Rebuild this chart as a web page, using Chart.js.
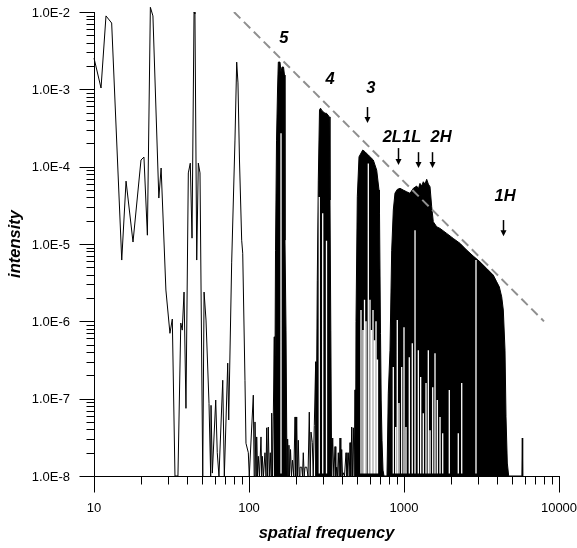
<!DOCTYPE html>
<html>
<head>
<meta charset="utf-8">
<script src="https://cdn.jsdelivr.net/npm/chart.js@4.4.0/dist/chart.umd.min.js"></script>
<style>
  html, body { margin: 0; padding: 0; background: #fff; }
</style>
</head>
<body>
<canvas id="spectrum" width="577" height="548"></canvas>
<script>
// axis ranges / ticks
const freqTicks = [10, 100, 1000, 10000];
const intTicks = [1e-8, 1e-7, 1e-6, 1e-5, 1e-4, 1e-3, 1e-2];

// measured spectrum: sparse low-frequency trace and low clusters between bands
const lineFreq = [
    10, 11.1, 11.95, 13.0, 15.1, 16.1, 17.85, 20.1, 21.0, 22.1,
    23.1, 24.0, 26.2, 27.1, 29.1, 30.9, 32.0, 33.3, 34.8, 36.3,
    37.1, 38.1, 39.2, 40.6, 41.8, 42.9, 44.2, 44.8, 46.0, 47.1,
    48.3, 50.3, 51.3, 52.8, 55.2, 56.6, 56.9, 58.0, 61.0, 62.4,
    64.0, 67.7, 69.3, 72.9, 74.0, 77.3, 81.2, 83.3, 84.9, 86.8,
    89.7, 91.1, 94.2, 95.6, 99.0, 100.4,
    106.6, 108.0, 109.3, 111.0, 112.1, 113.6, 114.8, 116.9, 119.5, 120.8,
    121.8, 124.0, 126.8, 128.7, 130.1, 131.6, 133.2, 135.2, 137.2, 138.7,
    140.1, 141.8, 143.5, 145.6, 146.0, 175.9,
    177.5, 179.5, 181.0, 182.5, 185.3, 188.0, 190.9, 194.5, 198.1, 200.4,
    203.1, 205.6, 208.0, 210.8, 213.3, 218.8, 221.4, 224.0, 227.0, 229.8,
    235.7, 240.3, 244.9, 248.2, 251.2, 256.1, 259.6, 263.8, 269.3, 270.5, 341.6,
    346.7, 352.5, 358.8, 363.1, 368.0, 372.4, 376.8, 381.9, 386.5, 391.1,
    396.4, 401.1, 405.9, 413.2, 422.5, 428.8, 437.1, 443.1, 448.4, 453.8,
    459.9, 465.4, 471.0, 477.3, 483.0, 486.6, 743.1,
    776.8, 4737, 5760, 5798, 5830
];
const lineInt = [
    2.54e-3, 1.04e-3, 8.9e-3, 7.2e-3, 6.2e-6, 6.5e-5, 1.06e-5, 1.22e-4, 1.33e-4, 1.3e-5,
    1.15e-2, 8.9e-3, 3.93e-5, 9.6e-5, 2.54e-6, 7.0e-7, 1.07e-6, 1e-8, 1e-8, 9.5e-7,
    7.7e-7, 2.39e-6, 7.5e-8, 8.3e-5, 1.11e-4, 1.19e-5, 1e-2, 9.4e-3, 6.2e-6, 1.11e-4,
    8.3e-5, 1e-8, 2.39e-6, 1.04e-6, 8.7e-8, 1e-8, 8.2e-8, 1.09e-8, 9.6e-8, 2.0e-8,
    1e-8, 1.73e-7, 1e-8, 2.88e-7, 5.3e-8, 5.7e-6, 2.21e-4, 2.25e-3, 1.21e-3, 1.22e-4,
    1.12e-5, 7.6e-6, 1.73e-7, 2.65e-8, 2.0e-8, 1e-8,
    1.11e-7, 1e-8, 5.0e-8, 1e-8, 3.2e-8, 1e-8, 1.8e-8, 1e-8, 3.2e-8, 1e-8,
    1.8e-8, 1e-8, 2.0e-8, 1e-8, 4.2e-8, 1e-8, 4.3e-8, 1e-8, 2.0e-8, 1e-8,
    6.5e-8, 1e-8, 5.8e-8, 6.3e-7, 1e-8, 1e-8,
    3.0e-8, 1e-8, 2.5e-8, 1e-8, 2.2e-8, 1e-8, 1.6e-8, 1e-8, 5.8e-8, 1e-8,
    5.8e-8, 1e-8, 2.9e-8, 1e-8, 1.3e-8, 1.3e-8, 1e-8, 2.0e-8, 1e-8, 1.3e-8,
    1.3e-8, 1e-8, 6.7e-8, 1e-8, 3.7e-8, 2.7e-8, 1e-8, 4.5e-8, 3.0e-7, 1e-8, 1e-8,
    3.1e-8, 1e-8, 2.4e-8, 1e-8, 1.3e-8, 1e-8, 2.0e-8, 1e-8, 3.1e-8, 1e-8,
    2.2e-8, 1e-8, 1.1e-8, 1e-8, 2.0e-8, 1e-8, 2.0e-8, 1e-8, 2.7e-8, 1e-8,
    4.3e-8, 1e-8, 4.2e-8, 1e-8, 1.3e-7, 1e-8, 1e-8,
    1e-8, 1e-8, 1e-8, 3.1e-8, 1e-8
];

// upper envelopes of the densely oscillating bands (drawn solid)
const band5Freq = [146.0, 148.3, 150.5, 152.8, 154.6, 158.5, 160.9, 163.3, 167.0, 169.4, 170.7, 173.3, 175.9];
const band5Int = [1e-8, 8.3e-6, 2.2e-4, 9.8e-4, 2.25e-3, 2.25e-3, 1.67e-3, 1.94e-3, 1.94e-3, 1.53e-3, 1.12e-5, 7.7e-7, 1e-8];

const band4Freq = [270.5, 275.8, 280.0, 285.0, 289.3, 295.8, 302.5, 309.3, 316.2, 323.3, 329.6, 333.1, 337.1, 341.6];
const band4Int = [1e-8, 3.4e-6, 6.7e-5, 5.4e-4, 5.7e-4, 5.3e-4, 5.1e-4, 4.9e-4, 4.9e-4, 4.65e-4, 4.4e-4, 3.7e-5, 7.7e-7, 1e-8];

const band3Freq = [486.6, 490.2, 499.7, 512.5, 541.4, 560.3, 597.2, 633.8, 666.7, 689.8, 695.0, 705.4, 712.7, 721.3, 732.1, 743.1];
const band3Int = [1e-8, 1e-6, 4.08e-5, 1.34e-4, 1.64e-4, 1.56e-4, 1.37e-4, 1.22e-4, 9.0e-5, 4.98e-5, 2.51e-5, 7.0e-7, 9.6e-8, 2.9e-8, 1.19e-8, 1e-8];

const band2Freq = [
    776.8, 791.9, 812.2, 832.9, 853.1, 874.8, 905.3, 942.4, 989.7, 1041,
    1093, 1148, 1208, 1237, 1268, 1301, 1332, 1366, 1401, 1435,
    1472, 1509, 1545, 1626, 1708, 1886, 2080, 2298, 2538, 2800,
    3093, 3416, 3768, 3964, 4120, 4270, 4372, 4484, 4551, 4640, 4737
];
const band2Int = [
    1e-8, 1.18e-7, 4.24e-7, 8.3e-6, 2.75e-5, 4.55e-5, 5.08e-5, 5.24e-5, 4.98e-5, 4.73e-5,
    4.52e-5, 5.24e-5, 5.61e-5, 5.13e-5, 6.08e-5, 5.61e-5, 6.38e-5, 5.96e-5, 6.86e-5, 5.96e-5,
    5.5e-5, 3.03e-5, 1.94e-5, 1.67e-5, 1.59e-5, 1.37e-5, 1.18e-5, 1.02e-5, 8.34e-6, 6.97e-6,
    5.88e-6, 4.83e-6, 3.96e-6, 3.24e-6, 2.79e-6, 2.07e-6, 1.40e-6, 4.24e-7, 5.82e-8, 1.47e-8, 1e-8
];

// gaps (white notches rising from the floor inside the bands)
const gapFreq = [
    160.9, 284.1, 298.9, 316.2, 527.9, 543.9, 556.2, 568.6, 588.5, 603.4,
    617.0, 631.0, 645.2, 659.8, 674.5, 853, 884, 905, 928, 966.5,
    1000, 1030, 1082, 1131, 1178, 1237, 1281, 1332, 1387, 1435,
    1472, 1532, 1585, 1640, 1708, 1777, 1960, 2240, 2357, 2914
];
const gapTop = [
    2.7e-4, 4.05e-5, 2.5e-5, 1.1e-5, 1.4e-6, 7.7e-7, 1.9e-6, 1.0e-6, 1.1e-4, 1.9e-6,
    7.7e-7, 1.4e-6, 5.7e-7, 1.0e-6, 3.2e-7, 2.56e-7, 4.3e-8, 1.04e-6, 8.8e-8, 2.56e-7,
    8.4e-7, 4.3e-8, 3.44e-7, 5.2e-7, 1.51e-5, 4.24e-7, 1.9e-7, 6.5e-8, 1.59e-7, 4.24e-7,
    3.9e-8, 1.41e-7, 3.88e-7, 9.6e-8, 5.8e-8, 3.58e-8, 1.29e-7, 3.58e-8, 1.59e-7, 6.2e-6
];
const gapFloor = 1.08e-8;

// dashed guide line (slope -2)
const guideFreq = [80, 8000];
const guideInt = [1e-2, 1e-6];

// band labels and arrows
const labelText = ['5', '4', '3', '2L1L', '2H', '1H'];
const labelFreq = [168, 333, 612, 970, 1734, 4487];
const labelInt = [4.5e-3, 1.36e-3, 1.04e-3, 2.4e-4, 2.4e-4, 4.17e-5];
const arrowFreq = [574, 910, 1236, 1510, 4355];
const arrowFrom = [5.9e-4, 1.74e-4, 1.54e-4, 1.54e-4, 2.04e-5];
const arrowTo = [3.66e-4, 1.05e-4, 9.6e-5, 9.6e-5, 1.26e-5];

const FONT = "'Liberation Sans', Arial, sans-serif";
const toPoints = (xs, ys) => xs.map((v, i) => ({x: v, y: ys[i]}));

const gapData = [];
gapFreq.forEach((f, i) => {
    gapData.push({x: f, y: gapFloor}, {x: f, y: gapTop[i]}, {x: f, y: null});
});

// tick marks (long for decades, short for 2..9), tick labels and axis lines
const logAxes = {
    id: 'logAxes',
    afterDatasetsDraw(chart) {
        const {ctx, chartArea} = chart;
        const xs = chart.scales.x, ys = chart.scales.y;
        const L = Math.round(chartArea.left) + 0.5;
        const B = Math.round(chartArea.bottom) + 0.5;
        ctx.save();
        ctx.strokeStyle = '#000';
        ctx.lineWidth = 1;
        ctx.beginPath();
        ctx.moveTo(L, Math.round(chartArea.top));
        ctx.lineTo(L, B);
        ctx.lineTo(Math.round(chartArea.right) + 1, B);
        for (let e = 1; e <= 4; e++) {
            for (let m = 1; m <= 9; m++) {
                const v = m * Math.pow(10, e);
                if (v > 10000) break;
                const px = Math.round(xs.getPixelForValue(v)) + 0.5;
                ctx.moveTo(px, B);
                ctx.lineTo(px, B + (m === 1 ? 16 : 8));
            }
        }
        for (let e = -8; e <= -2; e++) {
            for (let m = 1; m <= 9; m++) {
                const v = m * Math.pow(10, e);
                if (v > 1.0001e-2) break;
                const py = Math.round(ys.getPixelForValue(v)) + 0.5;
                ctx.moveTo(L, py);
                ctx.lineTo(L - (m === 1 ? 15 : 8), py);
            }
        }
        ctx.stroke();

        ctx.fillStyle = '#000';
        ctx.font = '13px ' + FONT;
        ctx.textBaseline = 'middle';
        ctx.textAlign = 'center';
        freqTicks.forEach(v => {
            ctx.fillText(String(v), xs.getPixelForValue(v), chartArea.bottom + 32);
        });
        ctx.textAlign = 'right';
        intTicks.forEach(v => {
            ctx.fillText('1.0E' + Math.round(Math.log10(v)), chartArea.left - 24, ys.getPixelForValue(v) + 1);
        });
        ctx.restore();
    }
};

const bandLabels = {
    id: 'bandLabels',
    afterDatasetsDraw(chart) {
        const {ctx} = chart;
        const xs = chart.scales.x, ys = chart.scales.y;
        ctx.save();
        ctx.fillStyle = '#000';
        ctx.strokeStyle = '#000';
        ctx.font = "italic bold 16.5px " + FONT;
        ctx.textAlign = 'center';
        ctx.textBaseline = 'middle';
        labelText.forEach((t, i) => {
            ctx.fillText(t, xs.getPixelForValue(labelFreq[i]), ys.getPixelForValue(labelInt[i]));
        });
        ctx.lineWidth = 1.5;
        arrowFreq.forEach((f, i) => {
            const x = Math.round(xs.getPixelForValue(f)) + 0.5;
            const y1 = ys.getPixelForValue(arrowFrom[i]);
            const y2 = ys.getPixelForValue(arrowTo[i]);
            ctx.beginPath();
            ctx.moveTo(x, y1);
            ctx.lineTo(x, y2 - 5);
            ctx.stroke();
            ctx.beginPath();
            ctx.moveTo(x - 3, y2 - 6);
            ctx.lineTo(x + 3, y2 - 6);
            ctx.lineTo(x, y2);
            ctx.closePath();
            ctx.fill();
        });
        ctx.restore();
    }
};

const bandSet = (xs, ys) => ({
    data: toPoints(xs, ys),
    showLine: true,
    fill: 'start',
    backgroundColor: '#000',
    borderColor: '#000',
    borderWidth: 1,
    order: 2
});

const canvas = document.getElementById('spectrum');
canvas.chart = new Chart(canvas.getContext('2d'), {
    type: 'scatter',
    data: {
        datasets: [
            {
                label: 'guide',
                data: toPoints(guideFreq, guideInt),
                showLine: true,
                borderColor: '#8f8f8f',
                borderWidth: 2,
                borderDash: [9, 5],
                order: 0
            },
            {
                label: 'gaps',
                data: gapData,
                showLine: true,
                spanGaps: false,
                borderColor: '#fff',
                borderWidth: 1.3,
                order: 1
            },
            bandSet(band5Freq, band5Int),
            bandSet(band4Freq, band4Int),
            bandSet(band3Freq, band3Int),
            bandSet(band2Freq, band2Int),
            {
                label: 'spectrum',
                data: toPoints(lineFreq, lineInt),
                showLine: true,
                borderColor: '#000',
                borderWidth: 1,
                clip: {left: 1, top: 8, right: 1, bottom: 1},
                order: 3
            }
        ]
    },
    options: {
        responsive: false,
        animation: false,
        devicePixelRatio: 1,
        events: [],
        layout: {padding: {top: 12, right: 18, left: 0, bottom: 0}},
        elements: {point: {radius: 0}, line: {tension: 0}},
        plugins: {legend: {display: false}, tooltip: {enabled: false}},
        scales: {
            x: {
                type: 'logarithmic',
                min: freqTicks[0],
                max: freqTicks[freqTicks.length - 1],
                grid: {display: false},
                border: {display: false},
                ticks: {display: false},
                afterFit: s => { s.height = 72; },
                title: {
                    display: true,
                    text: 'spatial frequency',
                    color: '#000',
                    font: {family: FONT, size: 16.5, weight: 'bold', style: 'italic'},
                    padding: {top: 0, bottom: 5}
                }
            },
            y: {
                type: 'logarithmic',
                min: intTicks[0],
                max: intTicks[intTicks.length - 1],
                grid: {display: false},
                border: {display: false},
                ticks: {display: false},
                afterFit: s => { s.width = 94; },
                title: {
                    display: true,
                    text: 'intensity',
                    color: '#000',
                    font: {family: FONT, size: 16.5, weight: 'bold', style: 'italic'},
                    padding: {top: 6, bottom: 0}
                }
            }
        }
    },
    plugins: [logAxes, bandLabels]
});
</script>
</body>
</html>
